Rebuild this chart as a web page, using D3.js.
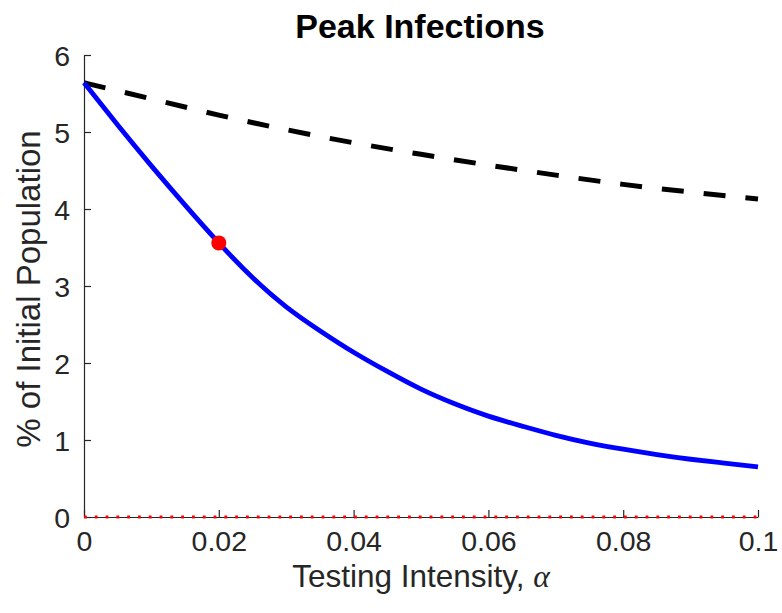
<!DOCTYPE html>
<html><head><meta charset="utf-8">
<script src="https://cdn.jsdelivr.net/npm/d3@7"></script>
<style>body{margin:0;background:#fff}svg{display:block}</style>
</head><body>
<svg id="c" width="782" height="613"></svg>
<script>
const alphaBlue = [0,0.005,0.01,0.015,0.02,0.025,0.03,0.035,0.04,0.045,0.05,0.055,0.06,0.065,0.07,0.075,0.08,0.085,0.09,0.095,0.1];
const peakTesting = [5.64,5.09,4.56,4.05,3.56,3.11,2.73,2.42,2.14,1.89,1.66,1.47,1.31,1.18,1.06,0.96,0.88,0.81,0.75,0.70,0.65];
const alphaDash = [0,0.01,0.02,0.03,0.04,0.05,0.06,0.07,0.08,0.09,0.1];
const peakDashed = [5.64,5.43,5.22,5.03,4.86,4.71,4.57,4.44,4.32,4.22,4.13];
const markerAlpha = [0.02];
const markerValue = [3.56];
const xTicks = [0,0.02,0.04,0.06,0.08,0.1];
const xTickLabels = ["0","0.02","0.04","0.06","0.08","0.1"];
const yTicks = [0,1,2,3,4,5,6];

const svg = d3.select("#c");
const x = d3.scaleLinear().domain([0,0.1]).range([84,758]);
const y = d3.scaleLinear().domain([0,6]).range([517,55]);
const axisColor = "#262626";
const font = "'Liberation Sans', Arial, Helvetica, sans-serif";

// axes (MATLAB style, ticks inward)
const xAxis = d3.axisBottom(x).tickValues(xTicks).tickFormat((d,i)=>xTickLabels[i]).tickSizeInner(-7).tickSizeOuter(0).tickPadding(13);
const gx = svg.append("g").attr("transform","translate(0,517)").call(xAxis);
const yAxis = d3.axisLeft(y).tickValues(yTicks).tickFormat(d3.format("d")).tickSizeInner(-7).tickSizeOuter(0).tickPadding(14);
const gy = svg.append("g").attr("transform","translate(84,0)").call(yAxis);
[gx,gy].forEach(g=>{
  g.select(".domain").attr("stroke",axisColor).attr("stroke-width",1.2);
  g.selectAll(".tick line").attr("stroke",axisColor).attr("stroke-width",1.2);
  g.selectAll(".tick text").attr("fill",axisColor).style("font-family",font).style("font-size","28.5px");
});
gx.selectAll(".tick text").attr("dy","0.75em");
gy.selectAll(".tick text").attr("dy","0.36em");

const line = d3.line().x(d=>x(d[0])).y(d=>y(d[1])).curve(d3.curveNatural);

// dashed black line
svg.append("path")
  .datum(alphaDash.map((a,i)=>[a,peakDashed[i]]))
  .attr("d",line).attr("fill","none").attr("stroke","#000")
  .attr("stroke-width",5).attr("stroke-dasharray","22 20");

// red dotted zero line
svg.append("path")
  .datum([[0,0],[0.1,0]])
  .attr("d",line).attr("fill","none").attr("stroke","#ff0000")
  .attr("stroke-width",2.8).attr("stroke-dasharray","2.8 8");

// blue curve
svg.append("path")
  .datum(alphaBlue.map((a,i)=>[a,peakTesting[i]]))
  .attr("d",line).attr("fill","none").attr("stroke","#0000ff")
  .attr("stroke-width",4.8);

// red marker
svg.selectAll("circle.m").data(markerAlpha).enter().append("circle")
  .attr("cx",d=>x(d)).attr("cy",(d,i)=>y(markerValue[i])).attr("r",7.5).attr("fill","#ff0000");

// title
svg.append("text").attr("x",420).attr("y",38).attr("text-anchor","middle")
  .style("font-family",font).style("font-weight","bold").style("font-size","34px").attr("fill","#000")
  .text("Peak Infections");

// x label
const xl = svg.append("text").attr("x",421).attr("y",587).attr("text-anchor","middle")
  .style("font-family",font).style("font-size","31.5px").attr("fill",axisColor);
xl.append("tspan").text("Testing Intensity, ");
xl.append("tspan").style("font-family","'Liberation Serif','DejaVu Serif',serif").style("font-style","italic").text("α");

// y label
svg.append("text").attr("transform","translate(40,289) rotate(-90)").attr("text-anchor","middle")
  .style("font-family",font).style("font-size","33px").attr("fill",axisColor)
  .text("% of Initial Population");
</script>
</body></html>
